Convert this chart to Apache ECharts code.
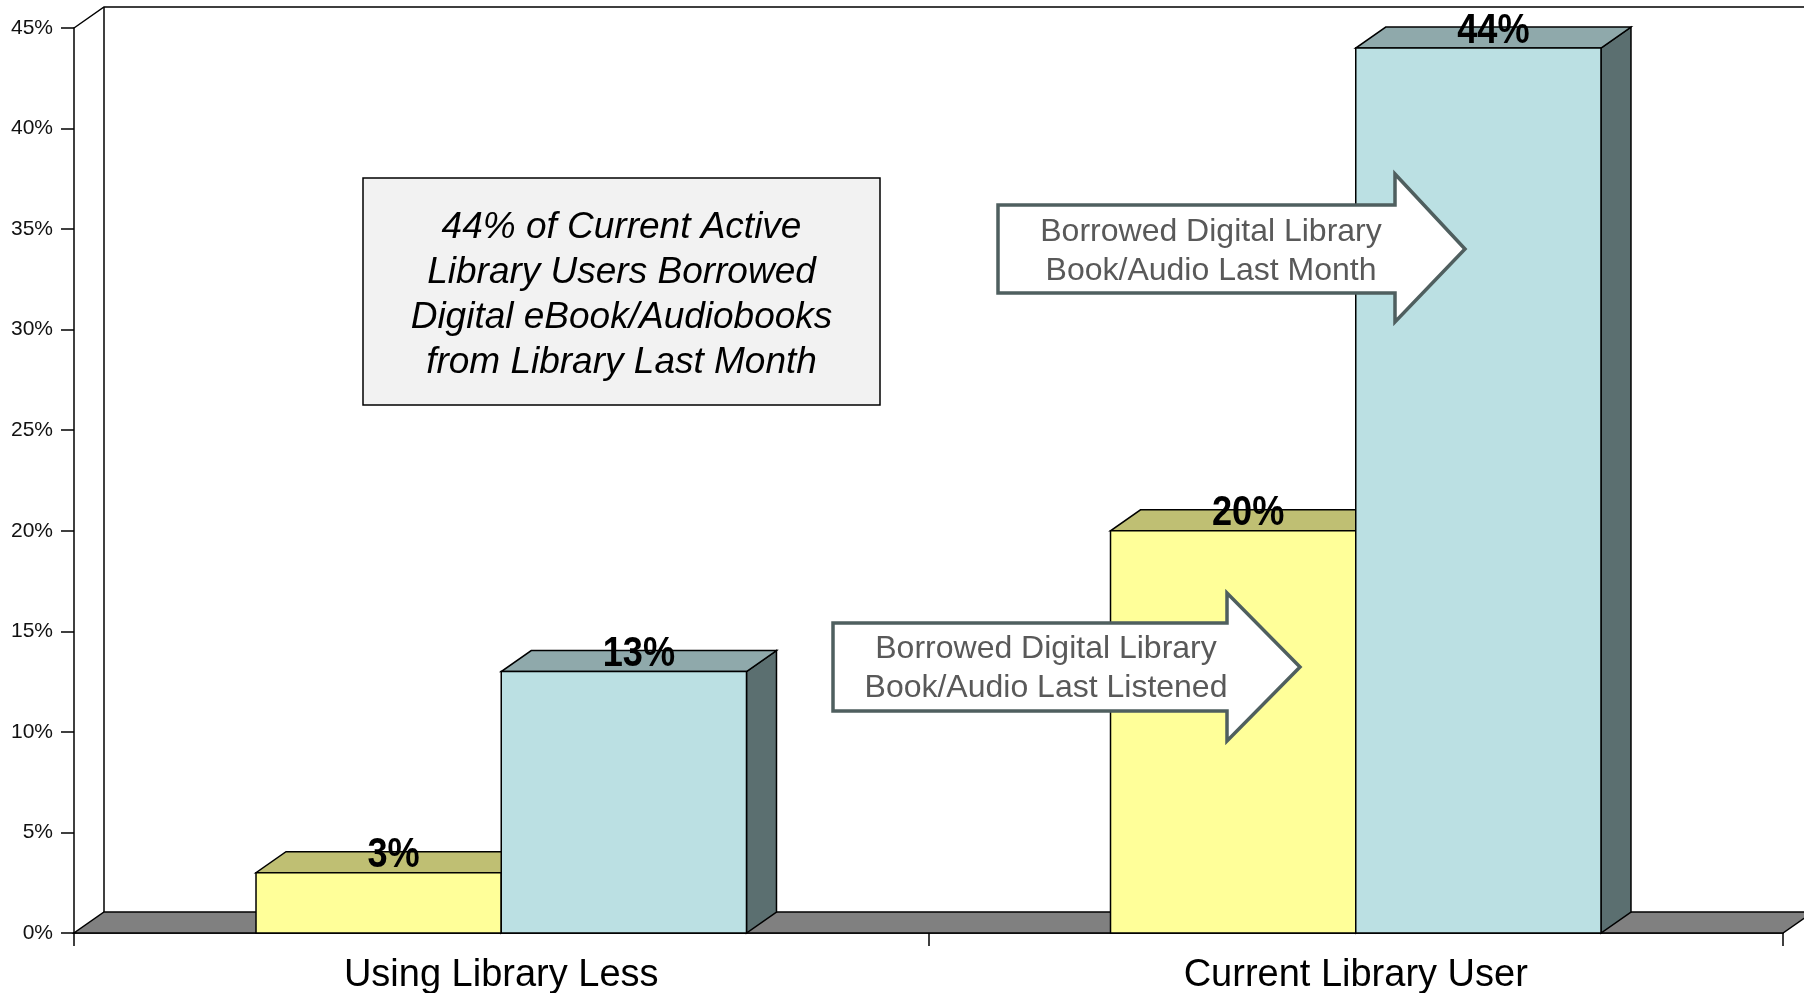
<!DOCTYPE html>
<html>
<head>
<meta charset="utf-8">
<script src="https://cdn.jsdelivr.net/npm/echarts@6/dist/echarts.min.js"></script>
<style>
html,body{margin:0;padding:0;background:#fff;}
#chart{width:1804px;height:993px;}
</style>
</head>
<body>
<div id="chart"></div>
<script>
// ---- data ----
var categories = ['Using Library Less', 'Current Library User'];
var lastListened = [3, 20];   // yellow series
var lastMonth = [13, 44];     // blue series
var yTicks = [0, 5, 10, 15, 20, 25, 30, 35, 40, 45];

var noteText = ['44% of Current Active', 'Library Users Borrowed', 'Digital eBook/Audiobooks', 'from Library Last Month'];
var arrowMonthText = ['Borrowed Digital Library', 'Book/Audio Last Month'];
var arrowListenText = ['Borrowed Digital Library', 'Book/Audio Last Listened'];

// ---- style constants ----
var DX = 30, DY = -21;
var BAR_RATIO = 0.287;
var FONT = '"Liberation Sans", Arial, sans-serif';

function bar3d(side, front, topC, sideC) {
  return function (params, api) {
    var idx = api.value(0), val = api.value(1);
    var base = api.coord([idx, 0]);
    var top = api.coord([idx, val]);
    var catW = api.size([1, 0])[0];
    var bw = catW * BAR_RATIO;
    var x0 = side < 0 ? base[0] - bw : base[0];
    var x1 = x0 + bw;
    var y0 = base[1], y1 = top[1];
    var stroke = {stroke: '#000', lineWidth: 1.5, lineJoin: 'miter'};
    return {
      type: 'group',
      children: [
        {type: 'polygon', shape: {points: [[x1, y1], [x1 + DX, y1 + DY], [x1 + DX, y0 + DY], [x1, y0]]},
          style: Object.assign({fill: sideC}, stroke)},
        {type: 'polygon', shape: {points: [[x0, y1], [x1, y1], [x1 + DX, y1 + DY], [x0 + DX, y1 + DY]]},
          style: Object.assign({fill: topC}, stroke)},
        {type: 'rect', shape: {x: x0, y: y1, width: bw, height: y0 - y1},
          style: Object.assign({fill: front}, stroke)},
        {type: 'text', z2: 10, x: (x0 + x1) / 2 + DX / 2, y: y1 + DY + 4, scaleX: 0.86,
          style: {
          text: api.value(1) + '%', x: 0, y: 0,
          align: 'center', verticalAlign: 'middle',
          fontFamily: FONT, fontWeight: 'bold', fontSize: 42, fill: '#000'}}
      ]
    };
  };
}

function floorWall(params, api) {
  var cs = params.coordSys;
  var x = cs.x, w = cs.width, yt = cs.y, yb = cs.y + cs.height;
  return {
    type: 'group',
    children: [
      {type: 'polygon', shape: {points: [[x, yb], [x + w, yb], [x + w + DX, yb + DY], [x + DX, yb + DY]]},
        style: {fill: '#808080', stroke: '#000', lineWidth: 1.5}},
      {type: 'polyline', shape: {points: [[x, yt], [x + DX, yt + DY], [x + w + DX + 40, yt + DY]]},
        style: {fill: null, stroke: '#000', lineWidth: 1.5}},
      {type: 'line', shape: {x1: x + DX, y1: yt + DY, x2: x + DX, y2: yb + DY},
        style: {stroke: '#000', lineWidth: 1.5}}
    ]
  };
}

function arrow(L, T, B, H, HT, HB, TX, TY) {
  return [[L, T], [H, T], [H, HT], [TX, TY], [H, HB], [H, B], [L, B]];
}

var chart = echarts.init(document.getElementById('chart'), null, {renderer: 'canvas'});
chart.setOption({
  animation: false,
  backgroundColor: '#fff',
  grid: {left: 74, right: 21, top: 28, bottom: 60, containLabel: false, outerBoundsMode: 'none'},
  xAxis: {
    type: 'category', data: categories, boundaryGap: true,
    axisLine: {show: true, lineStyle: {color: '#000', width: 1.5}},
    axisTick: {show: true, length: 13, lineStyle: {color: '#000', width: 1.5}},
    axisLabel: {fontSize: 38, color: '#000', fontFamily: FONT, margin: 24},
    splitLine: {show: false}
  },
  yAxis: {
    type: 'value', min: yTicks[0], max: yTicks[yTicks.length - 1], interval: 5,
    axisLine: {show: true, lineStyle: {color: '#000', width: 1.5}},
    axisTick: {show: true, length: 13, lineStyle: {color: '#000', width: 1.5}},
    axisLabel: {formatter: '{value}%', fontSize: 21, color: '#111', fontFamily: FONT, margin: 21},
    splitLine: {show: false}
  },
  series: [
    {type: 'custom', name: 'floor', z: 1, renderItem: floorWall, data: [[0, 0]], silent: true},
    {type: 'custom', name: 'Borrowed Digital Library Book/Audio Last Listened', z: 3,
      renderItem: bar3d(-1, '#FFFF99', '#BFBF73', '#7F7F4C'),
      data: lastListened.map(function (v, i) { return [i, v]; })},
    {type: 'custom', name: 'Borrowed Digital Library Book/Audio Last Month', z: 4,
      renderItem: bar3d(1, '#BBE0E3', '#8FA9AB', '#5B6F70'),
      data: lastMonth.map(function (v, i) { return [i, v]; })}
  ],
  graphic: [
    {type: 'rect', z: 100, shape: {x: 363, y: 178, width: 517, height: 227},
      style: {fill: '#F2F2F2', stroke: '#000', lineWidth: 1.5}},
    {type: 'text', z: 101, style: {text: noteText.join('\n'), x: 621.5, y: 295,
      align: 'center', verticalAlign: 'middle', lineHeight: 45,
      fontFamily: FONT, fontStyle: 'italic', fontSize: 37, fill: '#000'}},
    {type: 'polygon', z: 100, shape: {points: arrow(998, 205, 293, 1395, 174, 322, 1465, 249)},
      style: {fill: '#fff', stroke: '#4F5F5F', lineWidth: 3.5}},
    {type: 'text', z: 101, style: {text: arrowMonthText.join('\n'), x: 1211, y: 252,
      align: 'center', verticalAlign: 'middle', lineHeight: 39,
      fontFamily: FONT, fontSize: 32, fill: '#595959'}},
    {type: 'polygon', z: 100, shape: {points: arrow(833, 623, 711, 1227, 593, 741, 1300, 667)},
      style: {fill: '#fff', stroke: '#4F5F5F', lineWidth: 3.5}},
    {type: 'text', z: 101, style: {text: arrowListenText.join('\n'), x: 1046, y: 669,
      align: 'center', verticalAlign: 'middle', lineHeight: 39,
      fontFamily: FONT, fontSize: 32, fill: '#595959'}}
  ]
});
</script>
</body>
</html>
